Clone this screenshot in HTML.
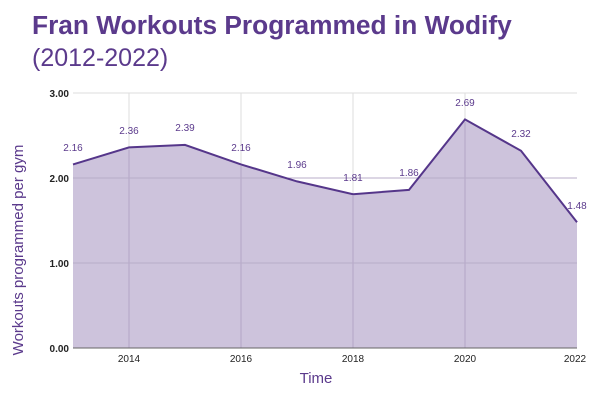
<!DOCTYPE html>
<html><head><style>body{margin:0;background:#fff}</style></head><body>
<svg width="600" height="400" xmlns="http://www.w3.org/2000/svg" font-family="Liberation Sans, sans-serif">
<text x="32" y="34" font-size="26.3" font-weight="bold" fill="#5b3a8c">Fran Workouts Programmed in Wodify</text>
<text x="32" y="66" font-size="25" fill="#5b3a8c">(2012-2022)</text>
<g stroke="#ddd" stroke-width="1">
<line x1="73" y1="93" x2="577" y2="93"/><line x1="73" y1="178" x2="577" y2="178"/><line x1="73" y1="263" x2="577" y2="263"/>
<line x1="129" y1="93" x2="129" y2="348"/><line x1="241" y1="93" x2="241" y2="348"/><line x1="353" y1="93" x2="353" y2="348"/><line x1="465" y1="93" x2="465" y2="348"/>
</g>
<path d="M73,164.4 L129,147.4 L185,144.9 L241,164.4 L297,181.4 L353,194.2 L409,189.9 L465,119.4 L521,150.8 L577,222.2 L577,348 L73,348Z" fill="#cdc3dc"/>
<g stroke="#b3a6c6" stroke-width="1"><line x1="129" y1="150" x2="129" y2="348"/><line x1="241" y1="166" x2="241" y2="348"/><line x1="353" y1="196" x2="353" y2="348"/><line x1="465" y1="122" x2="465" y2="348"/><line x1="73" y1="178" x2="577" y2="178" stroke="#b8acc9"/><line x1="73" y1="263" x2="577" y2="263" stroke="#b8acc9"/></g>
<polyline points="73,164.4 129,147.4 185,144.9 241,164.4 297,181.4 353,194.2 409,189.9 465,119.4 521,150.8 577,222.2" fill="none" stroke="#55368a" stroke-width="2"/>
<line x1="73" y1="348" x2="577" y2="348" stroke="#666" stroke-width="1"/>
<g font-size="10" fill="#5b3a8c" text-anchor="middle">
<text x="73" y="151">2.16</text><text x="129" y="134">2.36</text><text x="185" y="131">2.39</text><text x="241" y="151">2.16</text><text x="297" y="168">1.96</text><text x="353" y="181">1.81</text><text x="409" y="176">1.86</text><text x="465" y="106">2.69</text><text x="521" y="137">2.32</text><text x="577" y="209">1.48</text>
</g>
<g font-size="10" fill="#222" text-anchor="end" font-weight="bold">
<text x="69" y="97">3.00</text><text x="69" y="182">2.00</text><text x="69" y="267">1.00</text><text x="69" y="352">0.00</text>
</g>
<g font-size="10" fill="#222" text-anchor="middle">
<text x="129" y="362">2014</text><text x="241" y="362">2016</text><text x="353" y="362">2018</text><text x="465" y="362">2020</text><text x="575" y="362">2022</text>
</g>
<text x="316" y="383" font-size="15" fill="#5b3a8c" text-anchor="middle">Time</text>
<text transform="translate(23,250) rotate(-90)" font-size="15" fill="#5b3a8c" text-anchor="middle">Workouts programmed per gym</text>
</svg>
</body></html>
